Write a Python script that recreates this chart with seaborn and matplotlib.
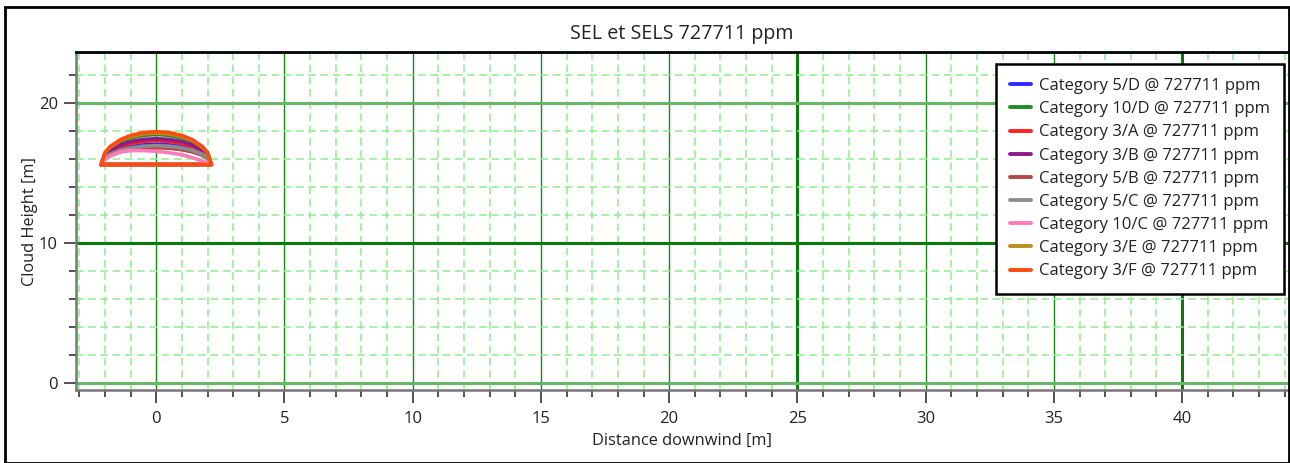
import numpy as np
import pandas as pd
import matplotlib
matplotlib.use("Agg")
import matplotlib.pyplot as plt
import seaborn as sns
from matplotlib.ticker import MultipleLocator
from matplotlib.patches import Rectangle
from matplotlib.lines import Line2D

sns.set_style("white")
plt.rcParams['font.family'] = ['Open Sans', 'DejaVu Sans']

title = "SEL et SELS 727711 ppm"
categories = ["Category 5/D", "Category 10/D", "Category 3/A", "Category 3/B",
              "Category 5/B", "Category 5/C", "Category 10/C", "Category 3/E",
              "Category 3/F"]
concentration = "727711 ppm"
colors = ["#2b2bff", "#1f8c1f", "#ff2020", "#8b1a8b", "#b04848", "#8c8c8c",
          "#ff7ab8", "#b8901a", "#ff4a10"]

x_pts = [-2.15, -2.0, -1.8, -1.4, -1.0, -0.5, 0.0, 0.5, 1.0, 1.4, 1.8, 2.0, 2.15]
base_height = 15.6
h_5D = [15.6, 16.13, 16.39, 16.70, 16.88, 17.01, 17.05, 17.01, 16.88, 16.70, 16.39, 16.13, 15.6]
h_10D = [15.6, 16.39, 16.78, 17.23, 17.50, 17.69, 17.75, 17.69, 17.50, 17.23, 16.78, 16.39, 15.6]
h_3A = [15.6, 16.22, 16.53, 16.89, 17.10, 17.25, 17.30, 17.25, 17.10, 16.89, 16.53, 16.22, 15.6]
h_3B = [15.6, 16.28, 16.61, 17.00, 17.24, 17.40, 17.45, 17.40, 17.24, 17.00, 16.61, 16.28, 15.6]
h_5B = [15.6, 16.04, 16.26, 16.51, 16.66, 16.77, 16.80, 16.77, 16.66, 16.51, 16.26, 16.04, 15.6]
h_5C = [15.6, 16.10, 16.34, 16.62, 16.79, 16.91, 16.95, 16.91, 16.79, 16.62, 16.34, 16.10, 15.6]
h_10C = [15.6, 15.95, 16.20, 16.50, 16.60, 16.60, 16.55, 16.45, 16.30, 16.10, 15.85, 15.72, 15.6]
h_3E = [15.6, 16.43, 16.83, 17.31, 17.59, 17.79, 17.85, 17.79, 17.59, 17.31, 16.83, 16.43, 15.6]
h_3F = [15.6, 16.46, 16.89, 17.38, 17.68, 17.89, 17.95, 17.89, 17.68, 17.38, 16.89, 16.46, 15.6]
heights = [h_5D, h_10D, h_3A, h_3B, h_5B, h_5C, h_10C, h_3E, h_3F]

labels = [f"{c} @ {concentration}" for c in categories]
rows = []
for lab, h in zip(labels, heights):
    xs = list(x_pts) + [x_pts[0]]
    ys = list(h) + [base_height]
    for xv, yv in zip(xs, ys):
        rows.append({"series": lab, "x": xv, "y": yv})
df = pd.DataFrame(rows)

fig = plt.figure(figsize=(12.9, 4.63), dpi=100)
ax = fig.add_axes([76/1290, 1-390/463, (1288-76)/1290, (390-52)/463])

sns.lineplot(data=df, x="x", y="y", hue="series", palette=dict(zip(labels, colors)),
             sort=False, estimator=None, units="series", lw=2.6, ax=ax, legend=False,
             zorder=5)
for ln in ax.get_lines():
    ln.set_solid_joinstyle("round")
    ln.set_solid_capstyle("round")

ax.set_xlim(-3.13, 44.13)
ax.set_ylim(-0.5, 23.64)
ax.xaxis.set_major_locator(MultipleLocator(5))
ax.xaxis.set_minor_locator(MultipleLocator(1))
ax.yaxis.set_major_locator(MultipleLocator(10))
ax.yaxis.set_minor_locator(MultipleLocator(2))

ax.grid(which="minor", color="#90ee90", ls=(0, (5, 3)), lw=1.1, zorder=0)
ax.grid(which="major", color="#138a13", ls="-", lw=1.0, zorder=1)
for gl, v in zip(ax.get_xgridlines(), ax.get_xticks()):
    if v in (25, 40):
        gl.set_linewidth(2.2)
        gl.set_color("#0a7a0a")
for gl, v in zip(ax.get_ygridlines(), ax.get_yticks()):
    gl.set_linewidth(2.2)
    gl.set_color("#0a7a0a" if v == 10 else "#66b866")
ax.set_axisbelow(True)

ax.tick_params(axis="x", which="major", direction="out", length=9, width=1.2,
               color="#333333", labelsize=12, labelcolor="#222222", bottom=True, pad=6)
ax.tick_params(axis="y", which="major", direction="out", length=9, width=1.2,
               color="#333333", labelsize=12, labelcolor="#222222", left=True, pad=4)
ax.tick_params(which="minor", direction="out", length=5, width=1.2, color="#333333",
               bottom=True, left=True)

for s in ["left", "bottom"]:
    ax.spines[s].set_color("#777777")
    ax.spines[s].set_linewidth(1.8)
ax.spines["top"].set_color("black")
ax.spines["top"].set_linewidth(2)
ax.spines["right"].set_visible(False)

ax.set_title(title, fontsize=14.2, pad=9, color="#222222")
ax.set_xlabel("Distance downwind [m]", fontsize=11.8, color="#222222", labelpad=4)
ax.set_ylabel("Cloud Height [m]", fontsize=11.8, color="#222222", labelpad=0.5)

handles = [Line2D([0], [0], color=c, lw=2.8) for c in colors]
leg = ax.legend(handles, labels, loc="upper right", bbox_to_anchor=(1 - 4/1212, 1 - 12/338),
                fontsize=12, frameon=True, fancybox=False, framealpha=1,
                edgecolor="black", handlelength=1.3, handletextpad=0.45,
                labelspacing=0.43, borderpad=0.85, borderaxespad=0)
leg.get_frame().set_linewidth(1.8)
for t in leg.get_texts():
    t.set_color("#222222")

fig.patches.append(Rectangle((5/1290, 0.5/463), (1289-5)/1290, (463-7.5)/463,
                             transform=fig.transFigure, fill=False,
                             edgecolor="black", lw=2))

fig.savefig("out.png", dpi=100)
